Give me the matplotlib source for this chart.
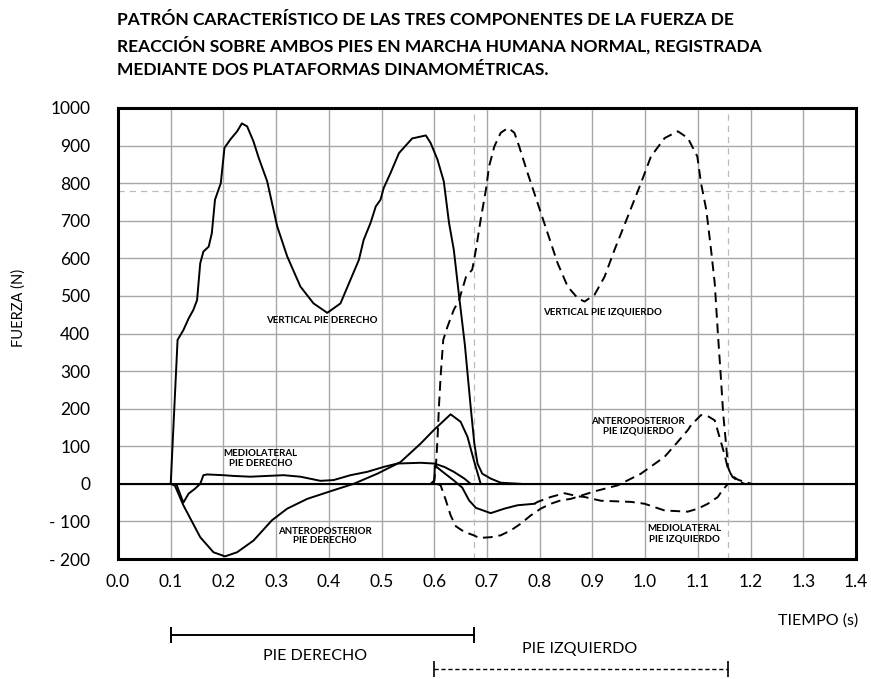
import matplotlib
matplotlib.use("Agg")
from matplotlib import pyplot as plt

plt.rcParams['font.family'] = ['Lato', 'DejaVu Sans']

# Vertical, pie derecho (continua)
vr_t = [0.100, 0.113, 0.124, 0.134, 0.143, 0.150, 0.156, 0.162, 0.172, 0.178,
        0.184, 0.195, 0.202, 0.213, 0.226, 0.235, 0.245, 0.257, 0.267, 0.283,
        0.302, 0.321, 0.346, 0.371, 0.397, 0.422, 0.441, 0.457, 0.466, 0.479,
        0.489, 0.498, 0.504, 0.517, 0.533, 0.558, 0.584, 0.593, 0.606, 0.618,
        0.628, 0.637, 0.647, 0.658, 0.669, 0.676, 0.682, 0.691, 0.707, 0.726, 0.764]
vr_f = [0, 383, 409, 440, 463, 489, 587, 618, 631, 667,
        756, 800, 894, 916, 938, 959, 951, 911, 867, 805,
        685, 605, 525, 480, 455, 480, 543, 596, 649, 694,
        738, 756, 787, 827, 880, 919, 927, 907, 863, 805,
        694, 623, 500, 370, 205, 107, 54, 27, 14, 3, 0]

# Vertical, pie izquierdo (discontinua)
vl_t = [0.599, 0.603, 0.606, 0.609, 0.612, 0.617, 0.625, 0.637, 0.647, 0.660,
        0.672, 0.679, 0.688, 0.698, 0.704, 0.714, 0.726, 0.740, 0.752, 0.761,
        0.777, 0.796, 0.815, 0.834, 0.853, 0.872, 0.885, 0.904, 0.923, 0.942,
        0.967, 0.992, 1.011, 1.037, 1.062, 1.081, 1.099, 1.106, 1.116, 1.125,
        1.132, 1.138, 1.144, 1.148, 1.154, 1.157, 1.163, 1.176, 1.189, 1.202]
vl_f = [0, 45, 116, 210, 285, 383, 418, 463, 489, 550,
        570, 623, 703, 783, 845, 898, 934, 947, 934, 898,
        827, 747, 667, 587, 525, 494, 485, 503, 551, 623,
        711, 800, 871, 920, 938, 920, 871, 800, 729, 623,
        534, 400, 276, 187, 98, 45, 23, 11, 5, 0]

# Anteroposterior, pie derecho
apr_t = [0.100, 0.108, 0.124, 0.156, 0.181, 0.203, 0.226, 0.257, 0.292, 0.321,
         0.359, 0.409, 0.447, 0.492, 0.536, 0.574, 0.599, 0.631, 0.650, 0.663,
         0.675, 0.688]
apr_f = [0, -5, -57, -142, -182, -193, -182, -151, -97, -66,
         -40, -17, 0, 27, 58, 107, 143, 185, 165, 125,
         63, 0]

# Mediolateral, pie derecho
mlr_t = [0.100, 0.111, 0.124, 0.134, 0.146, 0.156, 0.162, 0.169, 0.200, 0.219,
         0.251, 0.314, 0.346, 0.384, 0.409, 0.441, 0.473, 0.504, 0.530, 0.574,
         0.600, 0.619, 0.637, 0.657, 0.669]
mlr_f = [0, -2, -50, -26, -13, 0, 23, 25, 23, 21,
         19, 23, 19, 8, 10, 23, 32, 45, 54, 56,
         54, 45, 32, 14, 0]

# Anteroposterior, pie izquierdo
apl_t = [0.605, 0.612, 0.622, 0.631, 0.641, 0.657, 0.675, 0.685, 0.707, 0.726,
         0.745, 0.764, 0.783, 0.802, 0.821, 0.840, 0.859, 0.904, 0.948, 0.992,
         1.037, 1.062, 1.081, 1.087, 1.106, 1.119, 1.132, 1.141, 1.151, 1.157,
         1.166, 1.179, 1.189]
apl_f = [0, -4, -44, -84, -113, -128, -137, -144, -142, -137,
         -124, -106, -84, -66, -53, -44, -40, -20, -4, 27,
         72, 112, 143, 156, 183, 180, 169, 125, 76, 40,
         18, 5, 0]

# Mediolateral, pie izquierdo (tramo inicial continuo, resto discontinuo)
mll_t = [0.593, 0.600, 0.601, 0.615, 0.637, 0.653, 0.666, 0.679, 0.707, 0.733,
         0.758, 0.790, 0.796, 0.821, 0.847, 0.872, 0.885, 0.916, 0.973, 0.999,
         1.037, 1.081, 1.100, 1.119, 1.138, 1.144, 1.157]
mll_f = [0, 9, 49, 33, 9, -10, -44, -64, -78, -66,
         -57, -53, -48, -35, -25, -33, -35, -45, -48, -53,
         -71, -74, -66, -53, -35, -22, 0]
mll_split = 12

x_ticks = [i / 10 for i in range(15)]
x_labels = ['%.1f' % v for v in x_ticks]
y_ticks = list(range(-200, 1001, 100))
y_labels = ['- 200', '- 100'] + [str(v) for v in range(0, 1001, 100)]

stance_right = [0.1, 0.675]
stance_left = [0.6, 1.158]
ref_force = 780

title_lines = ['PATRÓN CARACTERÍSTICO DE LAS TRES COMPONENTES DE LA FUERZA DE',
               'REACCIÓN SOBRE AMBOS PIES EN MARCHA HUMANA NORMAL, REGISTRADA',
               'MEDIANTE DOS PLATAFORMAS DINAMOMÉTRICAS.']

fig = plt.figure(figsize=(8.71, 6.79), dpi=100)
ax = fig.add_axes([118 / 871, 1 - 559 / 679, 738 / 871, 451 / 679])

ax.set_xlim(0, 1.4)
ax.set_ylim(-200, 1000)
ax.set_xticks(x_ticks)
ax.set_xticklabels(x_labels)
ax.set_yticks(y_ticks)
ax.set_yticklabels(y_labels)
ax.tick_params(length=0, labelsize=12.5)
ax.tick_params(axis='y', pad=20)
ax.tick_params(axis='x', pad=11)
ax.grid(True, color='#a8a8a8', lw=1.0)
ax.set_axisbelow(True)
for s in ax.spines.values():
    s.set_linewidth(2.2)

# lineas guia grises
ax.axhline(ref_force, color='#bbbbbb', lw=0.9, ls=(0, (5, 4)))
for t in [stance_right[1], stance_left[1]]:
    ax.axvline(t, color='#bbbbbb', lw=0.9, ls=(0, (5, 4)))
ax.axhline(0, color='black', lw=1.5)

lw = 1.4
dash = (5, 3)
ax.plot(vr_t, vr_f, color='black', lw=lw)
ax.plot(apr_t, apr_f, color='black', lw=lw)
ax.plot(mlr_t, mlr_f, color='black', lw=lw)
ax.plot(vl_t, vl_f, color='black', lw=lw, dashes=dash)
ax.plot(apl_t, apl_f, color='black', lw=lw, dashes=dash)
ax.plot(mll_t[:mll_split], mll_f[:mll_split], color='black', lw=lw)
ax.plot(mll_t[mll_split - 1:], mll_f[mll_split - 1:], color='black', lw=lw, dashes=dash)

lab = dict(fontsize=7, fontweight='bold', ha='center', va='center', linespacing=1.1)
ax.text(0.387, 435, 'VERTICAL PIE DERECHO', **lab)
ax.text(0.92, 457, 'VERTICAL PIE IZQUIERDO', **lab)
ax.text(0.27, 67, 'MEDIOLATERAL\nPIE DERECHO', **lab)
ax.text(0.392, -139, 'ANTEROPOSTERIOR\nPIE DERECHO', **lab)
ax.text(0.987, 153, 'ANTEROPOSTERIOR\nPIE IZQUIERDO', **lab)
ax.text(1.075, -133, 'MEDIOLATERAL\nPIE IZQUIERDO', **lab)

# barras de apoyo bajo el eje
ax.plot(stance_right, [-401, -401], color='black', lw=1.4, clip_on=False,
        marker='|', markersize=12, markeredgewidth=1.4)
ax.plot(stance_left, [-492, -492], color='black', lw=1.0, clip_on=False,
        dashes=(3, 2))
ax.plot(stance_left, [-492, -492], ls='none', color='black', clip_on=False,
        marker='|', markersize=12, markeredgewidth=1.2)

fig.text(315 / 871, 1 - 656 / 679, 'PIE DERECHO', fontsize=11.5, ha='center', va='center')
fig.text(580 / 871, 1 - 649 / 679, 'PIE IZQUIERDO', fontsize=11.5, ha='center', va='center')
fig.text(858 / 871, 1 - 621 / 679, 'TIEMPO (s)', fontsize=11.5, ha='right', va='center')
fig.text(19 / 871, 1 - 308 / 679, 'FUERZA (N)', fontsize=10.5, rotation=90,
         ha='center', va='center')

for i, line in enumerate(title_lines):
    fig.text(117 / 871, 1 - (20 + 25 * i) / 679, line, fontsize=12.5,
             fontweight='bold', ha='left', va='center')

fig.savefig('out.png', dpi=100)
